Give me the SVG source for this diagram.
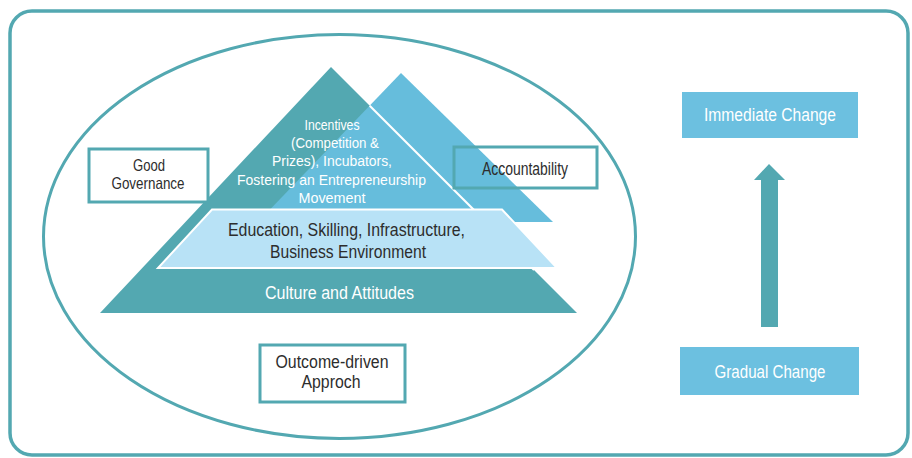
<svg xmlns="http://www.w3.org/2000/svg" width="912" height="458" viewBox="0 0 912 458">
<style>
text{font-family:"Liberation Sans",Arial,sans-serif;text-anchor:middle}
.d{fill:#2d2d2d;font-size:17.5px}
.w{fill:#ffffff;font-size:17.5px}
.s{fill:#ffffff;font-size:15.5px}
.g{fill:#2d2d2d;font-size:16.5px}
.box{fill:#ffffff;stroke:#53a8b1;stroke-width:3}
.cbox{fill:#6cc0e0}
</style>
<rect x="10" y="11" width="898" height="444" rx="22" fill="#ffffff" stroke="#53a8b1" stroke-width="3.5"/>
<ellipse cx="339.5" cy="236.5" rx="296" ry="202" fill="none" stroke="#53a8b1" stroke-width="3"/>
<g id="pyramid">
<polygon points="331,67 577,313 100,313" fill="#53a8b1"/>
<polygon points="401,73 553,222 258,222" fill="#66bddc"/>
<line x1="369.7" y1="105.7" x2="534" y2="270" stroke="#ffffff" stroke-width="2"/>
<polygon points="212,209.5 502,209.5 557,268 158,268" fill="#b8e2f6" stroke="#ffffff" stroke-width="2"/>
</g>
<g id="incentives">
<text class="s" x="332" y="130" textLength="55" lengthAdjust="spacingAndGlyphs">Incentives</text>
<text class="s" x="335" y="148" textLength="88" lengthAdjust="spacingAndGlyphs">(Competition &amp;</text>
<text class="s" x="332" y="166" textLength="120" lengthAdjust="spacingAndGlyphs">Prizes), Incubators,</text>
<text class="s" x="331.5" y="184.5" textLength="189" lengthAdjust="spacingAndGlyphs">Fostering an Entrepreneurship</text>
<text class="s" x="332" y="202.5" textLength="67" lengthAdjust="spacingAndGlyphs">Movement</text>
</g>
<g id="education">
<text class="d" x="346.5" y="236" textLength="237" lengthAdjust="spacingAndGlyphs">Education, Skilling, Infrastructure,</text>
<text class="d" x="348" y="258" textLength="156" lengthAdjust="spacingAndGlyphs">Business Environment</text>
</g>
<g id="culture">
<text class="w" x="339.5" y="299" textLength="149" lengthAdjust="spacingAndGlyphs">Culture and Attitudes</text>
</g>
<g id="good-governance">
<rect class="box" x="89" y="149" width="119" height="53"/>
<text class="g" x="149" y="171" textLength="32" lengthAdjust="spacingAndGlyphs">Good</text>
<text class="g" x="148" y="189" textLength="73" lengthAdjust="spacingAndGlyphs">Governance</text>
</g>
<g id="accountability">
<rect x="454" y="147" width="143" height="41" fill="none" stroke="#53a8b1" stroke-width="3"/>
<text class="d" x="525" y="175" textLength="86" lengthAdjust="spacingAndGlyphs">Accountability</text>
</g>
<g id="outcome">
<rect class="box" x="260" y="345" width="145" height="57"/>
<text class="d" x="332" y="368" textLength="113" lengthAdjust="spacingAndGlyphs">Outcome-driven</text>
<text class="d" x="331" y="388" textLength="59" lengthAdjust="spacingAndGlyphs">Approch</text>
</g>
<g id="immediate-change">
<rect class="cbox" x="682" y="92" width="176" height="46"/>
<text class="w" x="770" y="121" textLength="132" lengthAdjust="spacingAndGlyphs">Immediate Change</text>
</g>
<g id="gradual-change">
<rect class="cbox" x="680" y="347" width="179" height="48"/>
<text class="w" x="770" y="378" textLength="111" lengthAdjust="spacingAndGlyphs">Gradual Change</text>
</g>
<g id="connectors">
<polygon points="769,164 785,180 778,180 778,327 761,327 761,180 754,180" fill="#53a8b1"/>
</g>
</svg>
